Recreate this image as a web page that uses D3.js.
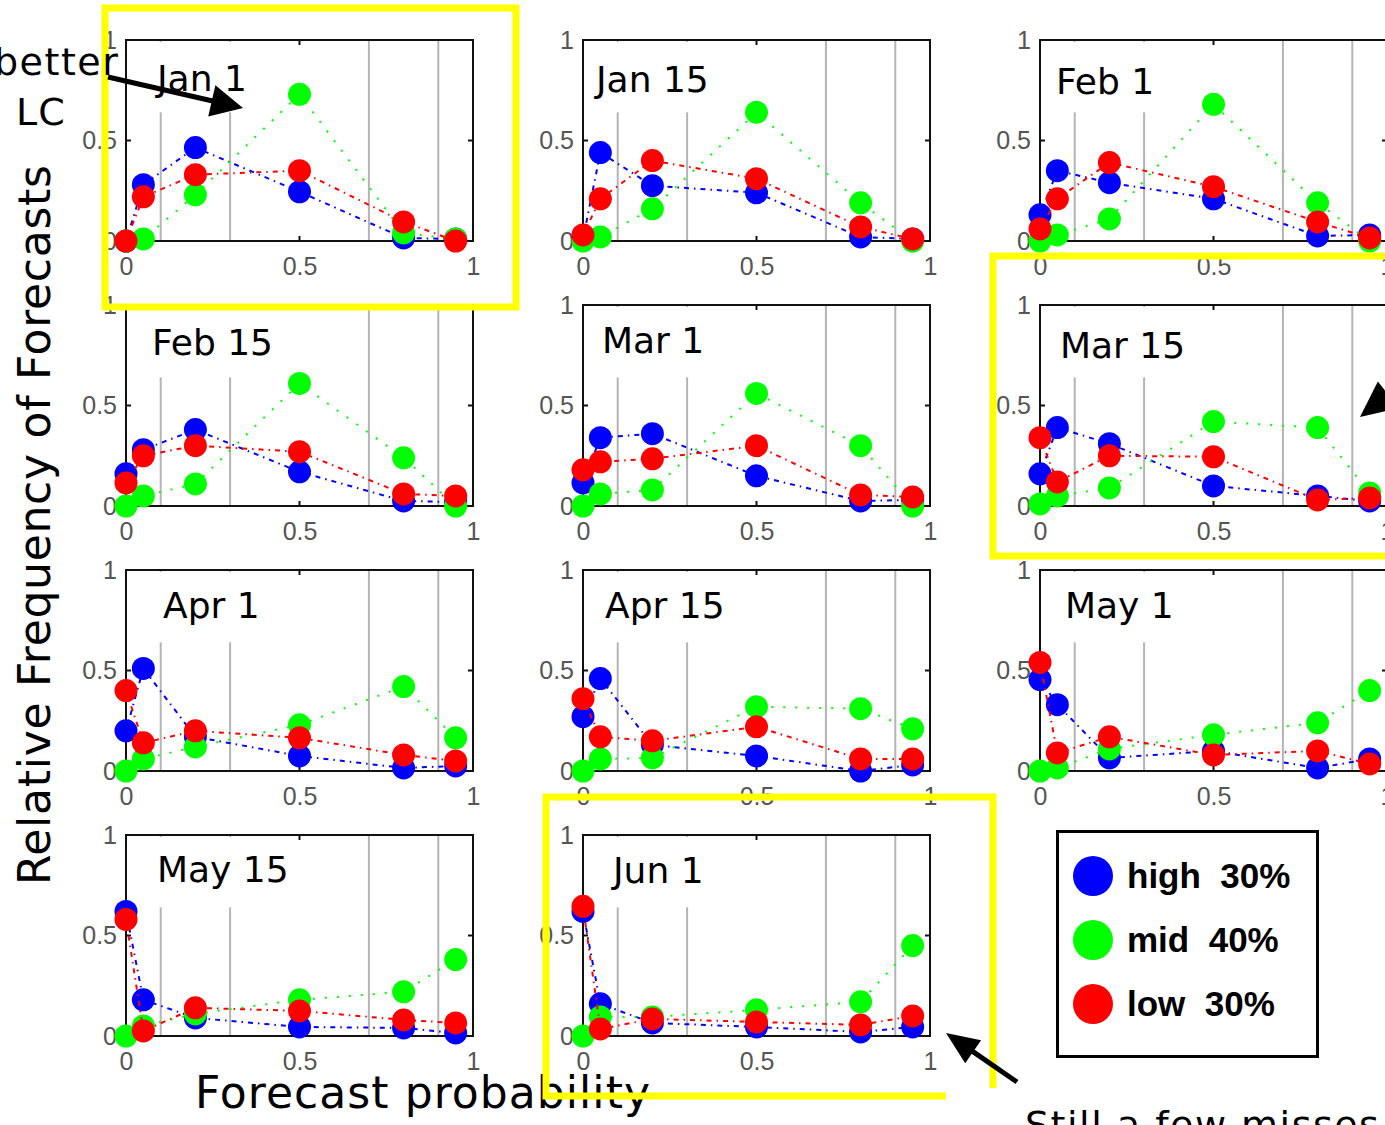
<!DOCTYPE html>
<html><head><meta charset="utf-8">
<script src="https://cdn.jsdelivr.net/npm/d3@7"></script>
<style>body{margin:0;background:#fff;overflow:hidden}</style>
</head><body>
<svg id="c" width="1385" height="1125" xmlns="http://www.w3.org/2000/svg"></svg>
<script>
// ---------------- DATA ----------------
const panels = ["Jan 1","Jan 15","Feb 1","Feb 15","Mar 1","Mar 15","Apr 1","Apr 15","May 1","May 15","Jun 1"];
const bins = [0, 0.05, 0.2, 0.5, 0.8, 0.95];
const high = [
  [0.00, 0.28, 0.465, 0.245, 0.015, 0.01],
  [0.01, 0.44, 0.275, 0.24, 0.02, 0.01],
  [0.13, 0.35, 0.29, 0.21, 0.025, 0.03],
  [0.16, 0.28, 0.38, 0.17, 0.025, 0.02],
  [0.115, 0.34, 0.36, 0.15, 0.025, 0.03],
  [0.16, 0.39, 0.31, 0.10, 0.05, 0.025],
  [0.20, 0.51, 0.17, 0.075, 0.015, 0.025],
  [0.27, 0.46, 0.13, 0.075, 0.00, 0.03],
  [0.455, 0.33, 0.065, 0.10, 0.015, 0.06],
  [0.62, 0.18, 0.09, 0.045, 0.04, 0.015],
  [0.62, 0.16, 0.065, 0.045, 0.02, 0.045]
];
const mid = [
  [0.00, 0.01, 0.23, 0.73, 0.04, 0.01],
  [0.00, 0.02, 0.16, 0.64, 0.19, 0.00],
  [0.00, 0.03, 0.11, 0.68, 0.19, 0.00],
  [0.00, 0.05, 0.11, 0.61, 0.24, 0.00],
  [0.00, 0.06, 0.08, 0.56, 0.30, 0.00],
  [0.01, 0.05, 0.09, 0.42, 0.39, 0.065],
  [0.00, 0.06, 0.12, 0.23, 0.42, 0.165],
  [0.00, 0.06, 0.065, 0.32, 0.31, 0.21],
  [0.00, 0.015, 0.11, 0.18, 0.24, 0.40],
  [0.00, 0.05, 0.11, 0.18, 0.22, 0.38],
  [0.00, 0.095, 0.095, 0.13, 0.17, 0.45]
];
const low = [
  [0.00, 0.22, 0.33, 0.35, 0.095, 0.00],
  [0.03, 0.21, 0.40, 0.31, 0.07, 0.01],
  [0.06, 0.21, 0.39, 0.27, 0.095, 0.015],
  [0.115, 0.25, 0.30, 0.27, 0.06, 0.05],
  [0.18, 0.22, 0.235, 0.30, 0.055, 0.045],
  [0.34, 0.12, 0.25, 0.245, 0.03, 0.04],
  [0.40, 0.14, 0.20, 0.165, 0.08, 0.05],
  [0.36, 0.17, 0.15, 0.22, 0.06, 0.06],
  [0.54, 0.09, 0.17, 0.08, 0.10, 0.035],
  [0.58, 0.025, 0.14, 0.125, 0.08, 0.065],
  [0.645, 0.035, 0.085, 0.07, 0.055, 0.10]
];
const seriesNames = ["high  30%", "mid  40%", "low  30%"];
const xTicks = [0, 0.5, 1];
const yTicks = [0, 0.5, 1];
const xTickLabels = ["0", "0.5", "1"];
const yTickLabels = ["0", "0.5", "1"];
const gridX = [0.1, 0.3, 0.7, 0.9];

// ---------------- LAYOUT / STYLE ----------------
const seriesColors = ["#0000ff", "#00ff00", "#ff0000"];
const seriesDash = ["5,5,1.5,5", "2,10", "5,5,1.5,5"];
const colLeft = [126, 583, 1040];
const rowTop = [40, 305, 570, 835];
const W = 347, H = 201;
const labelDx = [31, 13, 16, 26, 19, 20, 37, 22, 25, 31, 30];
const labelDy = [51, 52, 54, 50, 48, 53, 48, 48, 48, 47, 48];

const svg = d3.select("#c");
svg.append("rect").attr("width", 1385).attr("height", 1125).attr("fill", "#fff");

const x = d3.scaleLinear().domain([0, 1]).range([0, W]);
const y = d3.scaleLinear().domain([0, 1]).range([H, 0]);
const allSeries = [high, mid, low];

panels.forEach((name, i) => {
  const col = i % 3, row = Math.floor(i / 3);
  const g = svg.append("g").attr("transform", `translate(${colLeft[col]},${rowTop[row]})`);

  // grid lines
  g.selectAll("line.grid").data(gridX).join("line")
    .attr("x1", d => x(d)).attr("x2", d => x(d))
    .attr("y1", 0).attr("y2", H)
    .attr("stroke", "#b4b4b4").attr("stroke-width", 2);

  // axes tick labels
  const ax = d3.axisBottom(x).tickValues(xTicks).tickFormat((d, k) => xTickLabels[k]).tickSize(0).tickPadding(16);
  const gx = g.append("g").attr("transform", `translate(0,${H})`).call(ax);
  const ay = d3.axisLeft(y).tickValues(yTicks).tickFormat((d, k) => yTickLabels[k]).tickSize(0).tickPadding(9);
  const gy = g.append("g").call(ay);
  [gx, gy].forEach(a => {
    a.select(".domain").remove();
    a.selectAll("text").attr("font-family", "'Liberation Sans', Arial, sans-serif")
      .attr("font-size", 25).attr("fill", "#555");
  });

  // label box
  g.append("rect").attr("x", 2).attr("y", 2)
    .attr("width", x(0.42)).attr("height", y(0.64) - 2).attr("fill", "#fff");
  g.append("text").attr("x", labelDx[i]).attr("y", labelDy[i])
    .attr("font-family", "'DejaVu Sans', sans-serif").attr("font-size", 36)
    .attr("fill", "#000").text(name);

  // frame
  g.append("rect").attr("x", 0).attr("y", 0).attr("width", W).attr("height", H)
    .attr("fill", "none").attr("stroke", "#111").attr("stroke-width", 2);
  // inner ticks
  const tl = 5;
  const ticks = [
    [x(0.5), 0, x(0.5), tl], [x(0.5), H, x(0.5), H - tl],
    [0, y(0.5), tl, y(0.5)], [W, y(0.5), W - tl, y(0.5)]
  ];
  g.selectAll("line.tk").data(ticks).join("line")
    .attr("x1", d => d[0]).attr("y1", d => d[1]).attr("x2", d => d[2]).attr("y2", d => d[3])
    .attr("stroke", "#111").attr("stroke-width", 2);

  // series
  const line = d3.line().x((d, k) => x(bins[k])).y(d => y(d));
  allSeries.forEach((s, si) => {
    const vals = s[i];
    g.append("path").attr("d", line(vals)).attr("fill", "none")
      .attr("stroke", seriesColors[si]).attr("stroke-width", 2)
      .attr("stroke-dasharray", seriesDash[si]);
    g.selectAll(null).data(vals).join("circle")
      .attr("cx", (d, k) => x(bins[k])).attr("cy", d => y(d)).attr("r", 11.5)
      .attr("fill", seriesColors[si]);
  });
});

// axis titles
svg.append("text").attr("x", 195).attr("y", 1108)
  .attr("font-family", "'DejaVu Sans', sans-serif").attr("font-size", 44)
  .attr("textLength", 455).attr("lengthAdjust", "spacing").text("Forecast probability");
svg.append("text").attr("transform", "translate(50,525) rotate(-90)").attr("text-anchor", "middle")
  .attr("font-family", "'DejaVu Sans', sans-serif").attr("font-size", 44)
  .attr("textLength", 720).attr("lengthAdjust", "spacing").text("Relative Frequency of Forecasts");

// legend
const lg = svg.append("g");
lg.append("rect").attr("x", 1057.5).attr("y", 831.5).attr("width", 260).attr("height", 225)
  .attr("fill", "#fff").attr("stroke", "#000").attr("stroke-width", 3);
seriesNames.forEach((n, k) => {
  const cy = 876 + k * 64;
  lg.append("circle").attr("cx", 1093).attr("cy", cy).attr("r", 20).attr("fill", seriesColors[k]);
  lg.append("text").attr("x", 1127).attr("y", cy + 12).attr("xml:space", "preserve")
    .style("white-space", "pre")
    .attr("font-family", "'Liberation Sans', Arial, sans-serif").attr("font-weight", "bold")
    .attr("font-size", 35).text(n);
});

// yellow highlight boxes
const yel = "#ffff00";
svg.append("rect").attr("x", 105).attr("y", 8).attr("width", 411).attr("height", 299)
  .attr("fill", "none").attr("stroke", yel).attr("stroke-width", 7);
svg.append("rect").attr("x", 993).attr("y", 256).attr("width", 420).attr("height", 300)
  .attr("fill", "none").attr("stroke", yel).attr("stroke-width", 7);
svg.append("path").attr("d", "M946,1096 L546,1096 L546,797 L993,797 L993,1088")
  .attr("fill", "none").attr("stroke", yel).attr("stroke-width", 7);

// annotations
function arrow(x1, y1, x2, y2, headLen, headHalf, w) {
  const dx = x2 - x1, dy = y2 - y1, L = Math.hypot(dx, dy);
  const ux = dx / L, uy = dy / L;
  const bx = x2 - ux * headLen, by = y2 - uy * headLen;
  svg.append("line").attr("x1", x1).attr("y1", y1).attr("x2", bx + ux * 2).attr("y2", by + uy * 2)
    .attr("stroke", "#000").attr("stroke-width", w);
  svg.append("path").attr("d",
    `M${x2},${y2} L${bx - uy * headHalf},${by + ux * headHalf} L${bx + uy * headHalf},${by - ux * headHalf} Z`)
    .attr("fill", "#000");
}
arrow(108, 77, 243, 108, 32, 16, 5);
arrow(1017, 1082, 946, 1033, 33, 14, 5);
arrow(1420, 370, 1360, 417, 36, 17, 5);

const ann = { "font-family": "'DejaVu Sans', sans-serif", "font-size": 38 };
svg.append("text").attr("x", -6).attr("y", 75).attr("font-family", ann["font-family"]).attr("font-size", ann["font-size"])
  .attr("letter-spacing", 1.5).text("better");
svg.append("text").attr("x", 16).attr("y", 125).attr("font-family", ann["font-family"]).attr("font-size", ann["font-size"])
  .attr("letter-spacing", 1).text("LC");
svg.append("text").attr("x", 1025).attr("y", 1138).attr("font-family", ann["font-family"]).attr("font-size", ann["font-size"])
  .attr("letter-spacing", 1.5).text("Still a few misses");
</script>
</body></html>
